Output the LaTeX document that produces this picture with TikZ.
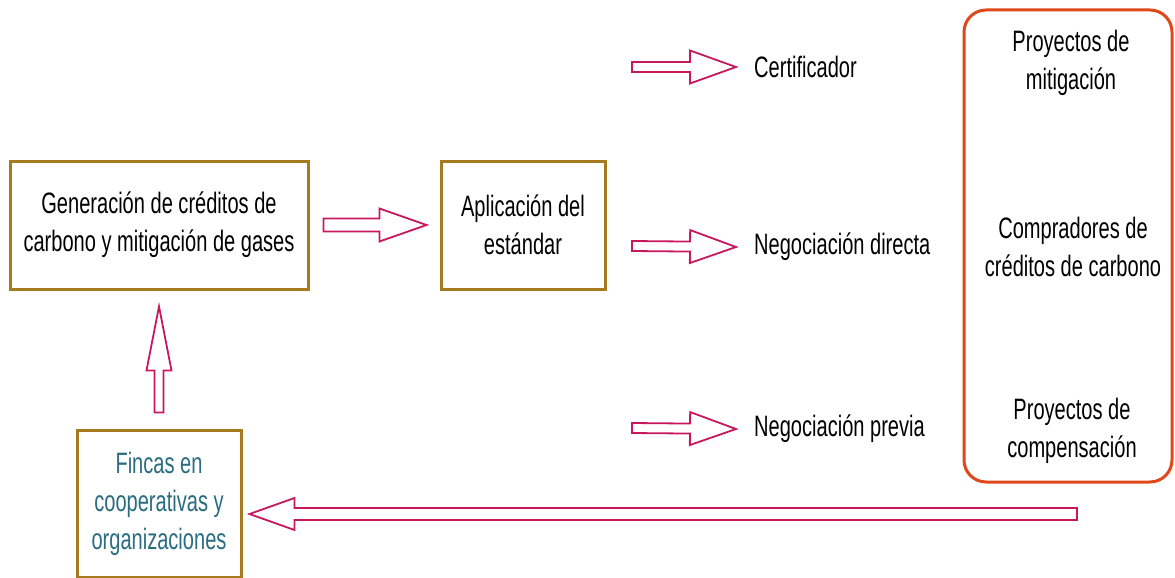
\documentclass[tikz,border=0pt]{standalone}
\usepackage{fontspec}
\setmainfont[FakeStretch=0.68]{Liberation Sans}
\usetikzlibrary{calc}
\definecolor{arrowc}{HTML}{C8175E}
\definecolor{boxc}{HTML}{A67B20}
\definecolor{orangec}{HTML}{E0481A}
\definecolor{tealc}{HTML}{2A6D80}
\tikzset{
  txt/.style={font=\fontsize{29.5}{38}\selectfont, align=center, inner sep=0pt},
  brownbox/.style={draw=boxc, line width=3pt, inner sep=0pt, txt},
  blockarrow/.style n args={3}{draw=arrowc, line width=1.8pt, fill=white, line join=miter,
    to path={let \p1=($(\tikztotarget)!#3!(\tikztostart)$) in
      ($(\tikztostart)!#1!90:(\tikztotarget)$) -- ($(\p1)!#1!90:(\tikztotarget)$)
      -- ($(\p1)!#2!90:(\tikztotarget)$) -- (\tikztotarget)
      -- ($(\p1)!#2!-90:(\tikztotarget)$) -- ($(\p1)!#1!-90:(\tikztotarget)$)
      -- ($(\tikztostart)!#1!-90:(\tikztotarget)$) -- cycle}}
}
\begin{document}
\begin{tikzpicture}[x=1pt,y=-1pt]
\useasboundingbox (0,0) rectangle (1175,578);
% boxes
\node[brownbox, minimum width=298pt, minimum height=128pt] (gen) at (159,225)
  {Generación de créditos de\\carbono y mitigación de gases};
\node[brownbox, minimum width=164pt, minimum height=128pt] (apl) at (523,225)
  {Aplicación del\\estándar};
\node[brownbox, minimum width=164pt, minimum height=147pt, text=tealc] (fin) at (159,503.5)
  {Fincas en\\cooperativas y\\organizaciones};
% right rounded box
\node[draw=orangec, line width=3pt, rounded corners=22pt, minimum width=208pt, minimum height=472pt, inner sep=0pt] (buy) at (1068,246) {};
\node[txt] (pm) at (1071,63) {Proyectos de\\mitigación};
\node[txt] (cc) at (1073,247) {Compradores de\\créditos de carbono};
\node[txt] (pc) at (1072,431) {Proyectos de\\compensación};
% labels
\node[txt, anchor=west] (cert) at (754,67) {Certificador};
\node[txt, anchor=west] (ndir) at (754,247) {Negociación directa};
\node[txt, anchor=west] (nprev) at (754,429) {Negociación previa};
% arrow endpoints
\coordinate (a1s) at ([xshift=14pt]gen.east);
\coordinate (a1e) at ([xshift=-13pt]apl.west);
\coordinate (c1s) at (632,67);
\coordinate (c1e) at ([xshift=-18pt]cert.west);
\coordinate (c2s) at (632,246);
\coordinate (c2e) at ([xshift=-18pt]ndir.west);
\coordinate (c3s) at (632,428);
\coordinate (c3e) at ([xshift=-18pt]nprev.west);
\coordinate (ups) at ([yshift=16pt]fin.north);
\coordinate (upe) at ([yshift=-16pt]gen.south);
\coordinate (lgs) at (1077,514);
\coordinate (lge) at ([xshift=7pt]fin.east |- lgs);
% arrows
\draw[blockarrow={6.5pt}{16.5pt}{47pt}] (a1s) to (a1e);
\draw[blockarrow={5pt}{16.5pt}{46pt}] (c1s) to (c1e);
\draw[blockarrow={5pt}{16.5pt}{46pt}] (c2s) to (c2e);
\draw[blockarrow={5pt}{16.5pt}{46pt}] (c3s) to (c3e);
\draw[blockarrow={4.5pt}{12.5pt}{64pt}] (ups) to (upe);
\draw[blockarrow={6pt}{16pt}{45pt}] (lgs) to (lge);
\end{tikzpicture}
\end{document}
